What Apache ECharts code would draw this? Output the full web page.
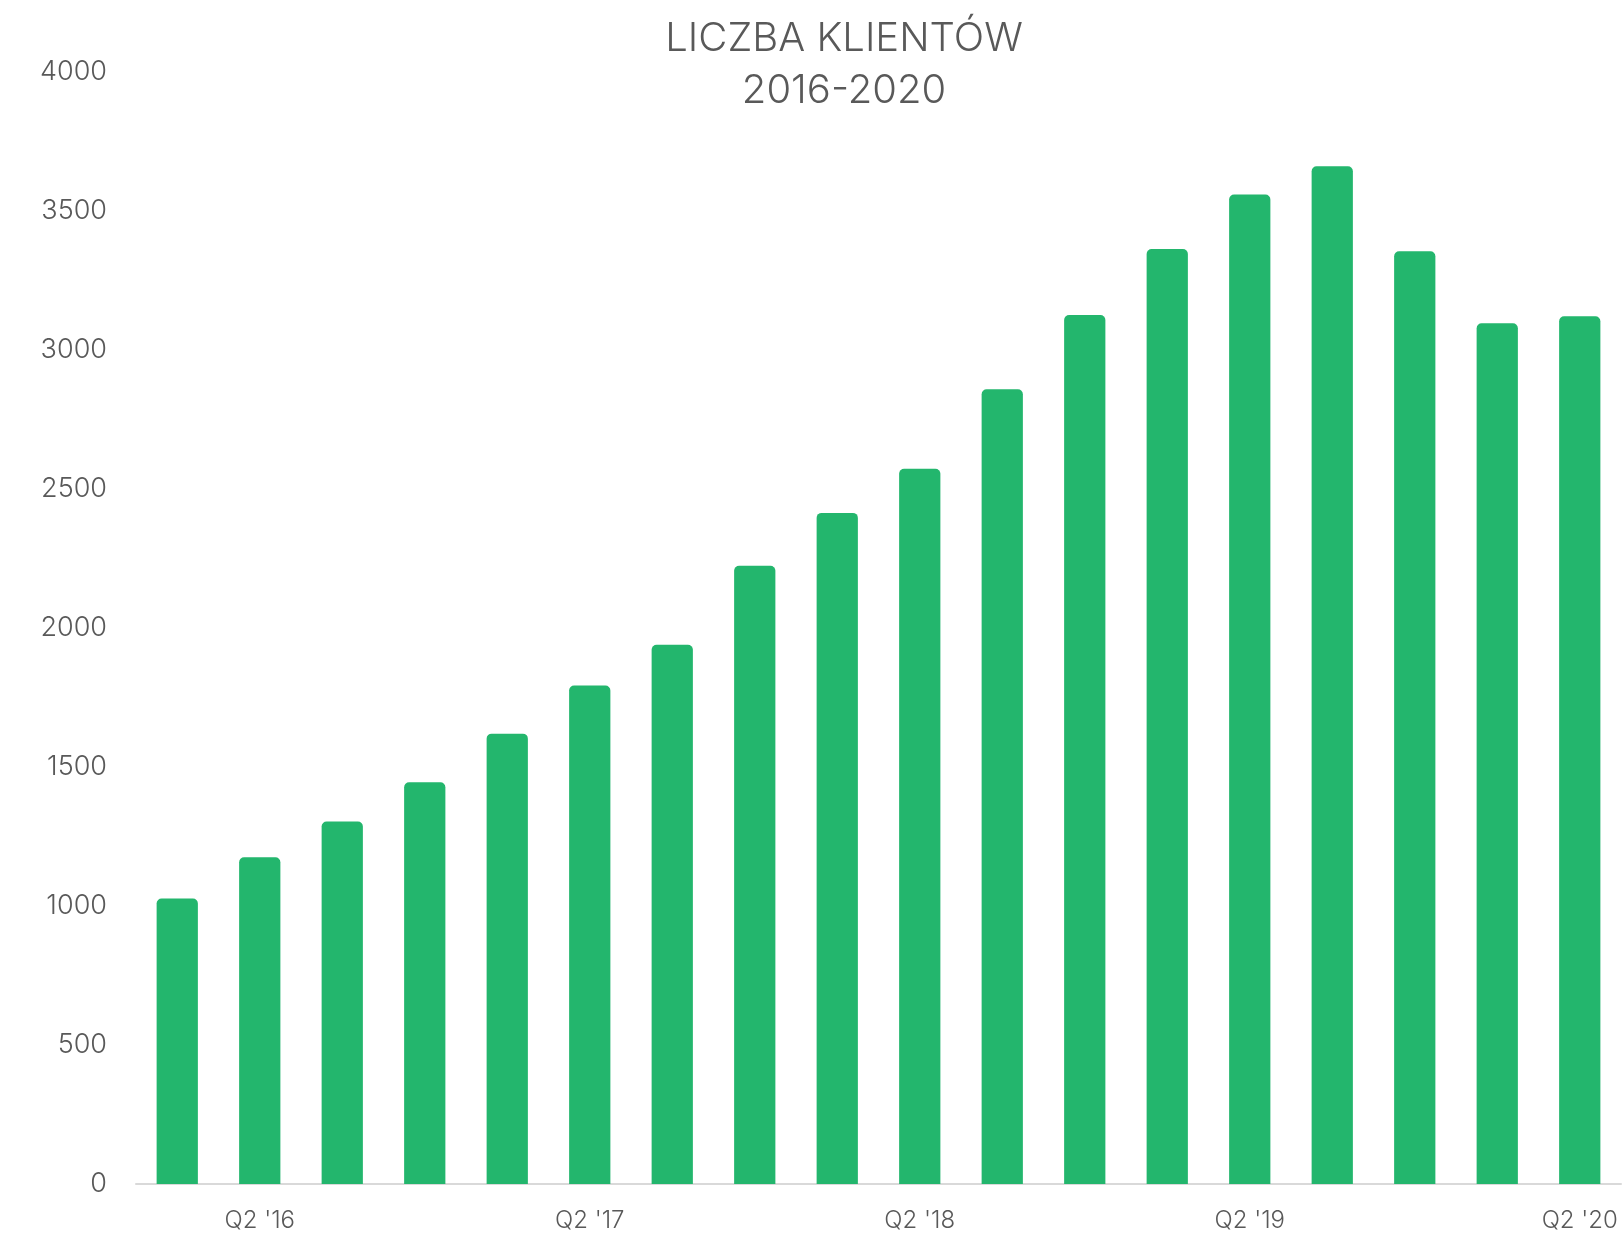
<!DOCTYPE html>
<html>
<head>
<meta charset="utf-8">
<script src="https://cdn.jsdelivr.net/npm/echarts@6/dist/echarts.min.js"></script>
<style>
  html, body { margin: 0; padding: 0; background: #ffffff; }
  #chart { width: 1623px; height: 1233px; }
</style>
</head>
<body>
<div id="chart"></div>
<script>
// Quarterly client counts, Q1 2016 – Q2 2020
const quarters = [
  "Q1 '16", "Q2 '16", "Q3 '16", "Q4 '16",
  "Q1 '17", "Q2 '17", "Q3 '17", "Q4 '17",
  "Q1 '18", "Q2 '18", "Q3 '18", "Q4 '18",
  "Q1 '19", "Q2 '19", "Q3 '19", "Q4 '19",
  "Q1 '20", "Q2 '20"
];
const clients = [
  1027, 1175, 1304, 1445,
  1620, 1793, 1940, 2224,
  2414, 2573, 2859, 3126,
  3363, 3559, 3661, 3355,
  3096, 3121
];
const titleLines = ['LICZBA KLIENTÓW', '2016-2020'];

const FONT = 'Inter, "Noto Sans", sans-serif';
const TEXT = '#595959';

const chart = echarts.init(document.getElementById('chart'), null, { renderer: 'canvas' });
chart.setOption({
  animation: false,
  backgroundColor: '#ffffff',
  title: {
    text: titleLines.join('\n'),
    left: 839,
    top: 8,
    textAlign: 'center',
    textStyle: {
      fontFamily: FONT,
      fontWeight: 300,
      fontSize: 40,
      lineHeight: 52,
      color: TEXT
    }
  },
  grid: { left: 136, right: 2, top: 72, bottom: 45, containLabel: false },
  xAxis: {
    type: 'category',
    data: quarters,
    axisLine: { show: true, lineStyle: { color: '#d9d9d9', width: 2 } },
    axisTick: { show: false },
    axisLabel: {
      interval: function (i) { return i % 4 === 1; },
      margin: 25,
      fontFamily: FONT,
      fontWeight: 300,
      fontSize: 24,
      color: TEXT
    }
  },
  yAxis: {
    type: 'value',
    min: 0,
    max: 4000,
    interval: 500,
    axisLine: { show: false },
    axisTick: { show: false },
    splitLine: { show: false },
    axisLabel: {
      margin: 29,
      formatter: function (v) { return String(v); },
      fontFamily: FONT,
      fontWeight: 300,
      fontSize: 27,
      color: TEXT
    }
  },
  series: [{
    type: 'bar',
    data: clients,
    barCategoryGap: '50%',
    itemStyle: {
      color: '#23b66d',
      borderRadius: [5, 5, 0, 0]
    },
    z: 1
  }]
});
</script>
</body>
</html>
